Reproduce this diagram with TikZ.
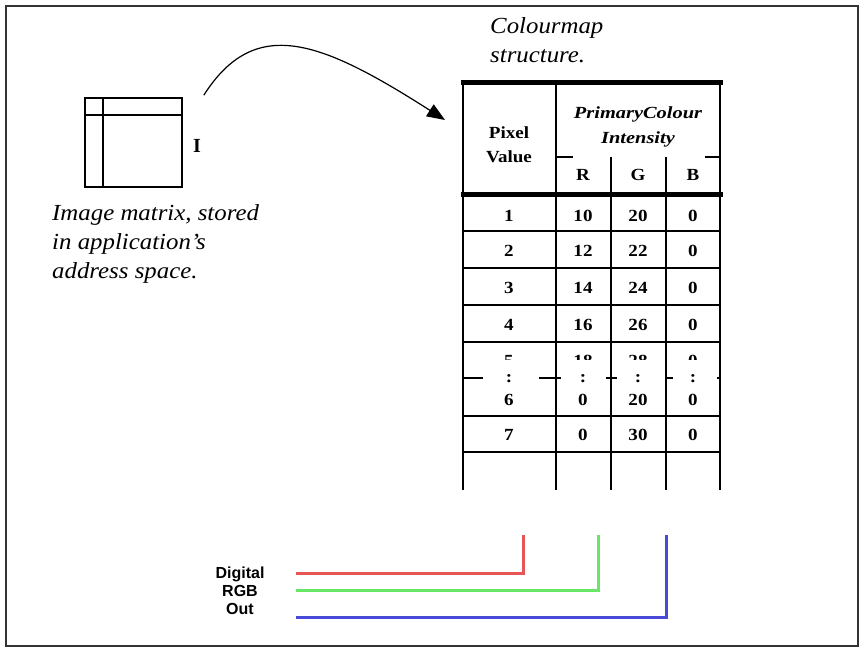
\documentclass[tikz,border=0pt]{standalone}
\usepackage{fontspec}
\setmainfont{Liberation Serif}
\setsansfont{Liberation Sans}
\usetikzlibrary{arrows.meta}

\begin{document}
\begin{tikzpicture}[x=1pt,y=-1pt,
	cell/.style={font=\fontsize{17}{17}\selectfont\bfseries,anchor=base,inner sep=0pt,xscale=1.12,transform shape},
	head/.style={font=\fontsize{17}{17}\selectfont\bfseries\itshape,anchor=base,inner sep=0pt,xscale=1.2,transform shape},
	note/.style={font=\fontsize{23}{29}\selectfont\itshape,align=left,inner sep=0pt,anchor=north west,xscale=1.08},
	rule/.style={line width=1.6pt},
	heavy/.style={line width=5pt}]
	\definecolor{outred}{HTML}{E85555}
	\definecolor{outgreen}{HTML}{66E866}
	\definecolor{outblue}{HTML}{4A4AD8}
	
	\useasboundingbox (0,0) rectangle (865,650);
	\draw[line width=2pt,black!80] (6,6) rectangle (858,646);
	
	% image matrix
	\node[draw,line width=1.6pt,minimum width=97pt,minimum height=89pt,inner sep=0pt] (img) at (133.5,142.5) {};
	\draw[line width=1.6pt] ([yshift=-18pt]img.north west) -- ([yshift=-18pt]img.north east);
	\draw[line width=1.6pt] ([xshift=19pt]img.north west) -- ([xshift=19pt]img.south west);
	\node[font=\fontsize{20}{20}\selectfont\bfseries,anchor=base,inner sep=0pt] (imgname) at (197,153) {I};
	\node[note] (imgtext) at (52,204) {Image matrix, stored\\in application’s\\address space.};
	
	% colourmap table
	\node[note] (mapname) at (490,17) {Colourmap\\structure.};
	\coordinate (tbl) at (463,83);
	\draw[line width=1.2pt,-{Triangle[length=18pt,width=14pt]}] ([shift={(21,-2)}]img.north east) .. controls (255,15) and (320,40) .. ([shift={(-18,37)}]tbl);
	
	\draw[heavy] (460.5,83) -- (722.5,83);
	\draw[heavy] (460.5,194) -- (722.5,194);
	\foreach \x in {463,556,720}
		\draw[rule] (\x,83) -- (\x,490);
	\foreach \x in {611,666}
		\draw[rule] (\x,157) -- (\x,490);
	\draw[rule] (556,157) -- (573,157);
	\draw[rule] (705,157) -- (720,157);
	\foreach \y in {231,268,305,342,416,452}
		\draw[rule] (463,\y) -- (720,\y);
	\foreach \a/\b in {463/483,539/561,606/617,665/673,717/720}
		\draw[rule] (\a,378) -- (\b,378);
	
	% header
	\node[cell] (pixel) at (509,139) {Pixel};
	\node[cell] (value) at (509,163) {Value};
	\node[head] (primary) at (638,119) {PrimaryColour};
	\node[head] (intensity) at (638,144) {Intensity};
	\node[cell] (hr) at (583,181) {R};
	\node[cell] (hg) at (638,181) {G};
	\node[cell] (hb) at (693,181) {B};
	
	% rows
	\foreach \p/\r/\g/\b/\y in {1/10/20/0/221,2/12/22/0/256,3/14/24/0/293,4/16/26/0/330,6/0/20/0/405,7/0/30/0/440}{
		\node[cell] (p\p) at (509,\y) {\p};
		\node[cell] (r\p) at (583,\y) {\r};
		\node[cell] (g\p) at (638,\y) {\g};
		\node[cell] (b\p) at (693,\y) {\b};
	}
	\begin{scope}
		\clip (463,340) rectangle (720,359);
		\node[cell] (p5) at (509,366) {5};
		\node[cell] (r5) at (583,366) {18};
		\node[cell] (g5) at (638,366) {28};
		\node[cell] (b5) at (693,366) {0};
	\end{scope}
	\foreach \x/\n in {509/p,583/r,638/g,693/b}
		\node[cell] (dots\n) at (\x,382) {:};
	
	% digital out
	\node[font=\fontsize{16}{18}\selectfont\sffamily\bfseries,align=center,inner sep=0pt] (rgbout) at (240,591) {Digital\\RGB\\Out};
	\coordinate (redtop) at (523,535);
	\coordinate (greentop) at (598,535);
	\coordinate (bluetop) at (666,535);
	\coordinate (redend) at (296,573);
	\coordinate (greenend) at (296,590);
	\coordinate (blueend) at (296,617);
	\draw[outred,line width=3pt] (redtop) |- (redend);
	\draw[outgreen,line width=3pt] (greentop) |- (greenend);
	\draw[outblue,line width=3pt] (bluetop) |- (blueend);
\end{tikzpicture}
\end{document}
